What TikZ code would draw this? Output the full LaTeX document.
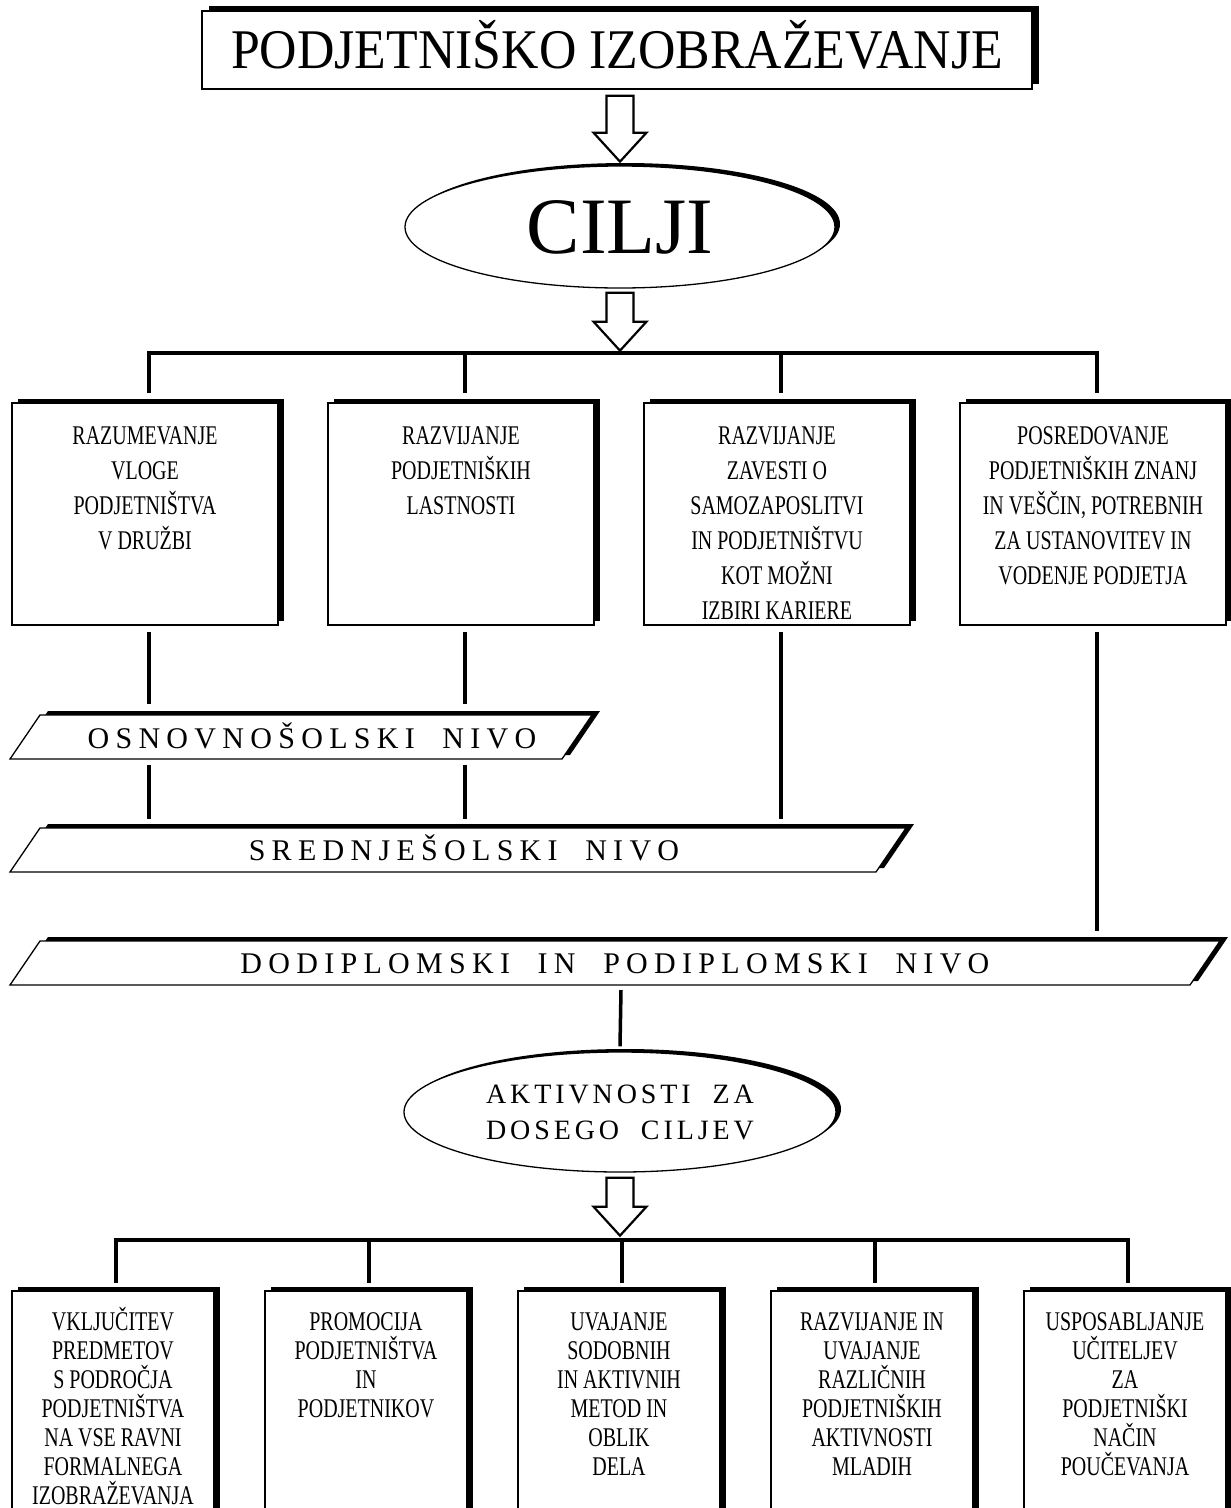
\documentclass[tikz,border=0pt]{standalone}
\usepackage{fontspec}
\setmainfont{Liberation Serif}
\newfontfamily\condfont[FakeStretch=0.74]{Liberation Serif}
\newfontfamily\titlefont[FakeStretch=0.925]{Liberation Serif}
\newfontfamily\wideA[LetterSpace=21]{Liberation Serif}
\newfontfamily\wideB[LetterSpace=14]{Liberation Serif}
\usetikzlibrary{shapes.geometric,shadows,calc}
\newcommand\mystrut{\rule{0pt}{24pt}}
\newcommand\myparal[4]{%
  \fill[black,shift={(8,-4)}] (#1,#4) -- ({#1+30},#3) -- (#2,#3) -- ({#2-30},#4) -- cycle;
  \draw[line width=1.3pt,fill=white] (#1,#4) -- ({#1+30},#3) -- (#2,#3) -- ({#2-30},#4) -- cycle;}
\tikzset{
  pics/blockarrow/.style={code={
    \draw[line width=2.2pt,fill=white,line join=miter]
      (-13.5,0) -- (13.5,0) -- (13.5,#1) -- (26.5,#1) -- (0,{#1+29}) -- (-26.5,#1) -- (-13.5,#1) -- cycle;}},
  conn/.style={line width=3.5pt},
  boxline/.style={draw,line width=1.3pt,fill=white,inner sep=0pt},
  rowbox/.style={boxline,rectangle,minimum width=266pt,minimum height=222pt,
    general shadow={fill=black,shadow xshift=6pt,shadow yshift=4pt}},
  actbox/.style={boxline,rectangle,minimum width=202pt,minimum height=300pt,
    general shadow={fill=black,shadow xshift=6pt,shadow yshift=4pt}},
  rowtext/.style={align=center,inner sep=0pt,anchor=north,font=\condfont\fontsize{27}{35}\selectfont},
  acttext/.style={align=center,inner sep=0pt,anchor=north,font=\condfont\fontsize{27}{29}\selectfont},
  levtext/.style={inner sep=0pt,text height=20pt,text depth=0pt,font=\wideA\fontsize{30}{36}\selectfont},
  ell/.style={boxline,ellipse,general shadow={fill=black,shadow xshift=5pt,shadow yshift=3pt}}
}
\begin{document}
\begin{tikzpicture}[x=1pt,y=-1pt]
\useasboundingbox (0,0) rectangle (1231,1508);
\fill[white] (0,0) rectangle (1231,1508);
\clip (0,0) rectangle (1231,1508);

% title
\node[boxline,rectangle,minimum width=830pt,minimum height=78pt,text height=37pt,text depth=0pt,
  general shadow={fill=black,shadow xshift=7pt,shadow yshift=5pt},
  font=\titlefont\fontsize{56}{64}\selectfont] (title) at (617,50) {PODJETNIŠKO IZOBRAŽEVANJE};

% goals ellipse
\node[ell,minimum width=430pt,minimum height=122pt,text height=53pt,text depth=0pt,
  font=\fontsize{80}{88}\selectfont] (cilji) at (620,227) {CILJI};

\pic at ([xshift=3pt,yshift=-6pt]title.south) {blockarrow=37};
\pic at ([yshift=-4pt]cilji.south) {blockarrow=29};

% goal boxes
\node[rowbox] (b1) at (145,514) {};
\node[rowbox] (b2) at (461,514) {};
\node[rowbox] (b3) at (777,514) {};
\node[rowbox] (b4) at (1093,514) {};
\node[rowtext] (t1) at ([yshift=-17.5pt]b1.north) {\mystrut RAZUMEVANJE\\VLOGE\\PODJETNIŠTVA\\V DRUŽBI};
\node[rowtext] (t2) at ([yshift=-17.5pt]b2.north) {\mystrut RAZVIJANJE\\PODJETNIŠKIH\\LASTNOSTI};
\node[rowtext] (t3) at ([yshift=-17.5pt]b3.north) {\mystrut RAZVIJANJE\\ZAVESTI O\\SAMOZAPOSLITVI\\IN PODJETNIŠTVU\\KOT MOŽNI\\IZBIRI KARIERE};
\node[rowtext] (t4) at ([yshift=-17.5pt]b4.north) {\mystrut POSREDOVANJE\\PODJETNIŠKIH ZNANJ\\IN VEŠČIN, POTREBNIH\\ZA USTANOVITEV IN\\VODENJE PODJETJA};

% upper hub
\coordinate (hub1) at (620,353);
\draw[conn] ([xshift=4pt,yshift=9pt]b1.north) -- ([xshift=4pt]b1.north |- hub1)
  -- ([xshift=4pt]b4.north |- hub1) -- ([xshift=4pt,yshift=9pt]b4.north);
\draw[conn] ([xshift=4pt]b2.north |- hub1) -- ([xshift=4pt,yshift=9pt]b2.north);
\draw[conn] ([xshift=4pt]b3.north |- hub1) -- ([xshift=4pt,yshift=9pt]b3.north);

% levels
\myparal{10}{592}{715}{759}
\myparal{10}{906}{828}{872}
\myparal{10}{1220}{941}{985}
\node[levtext] (osn) at (312,738) {OSNOVNOŠOLSKI~~NIVO};
\node[levtext] (sred) at (464,850) {SREDNJEŠOLSKI~~NIVO};
\node[levtext] (dod) at (615,963) {DODIPLOMSKI~~IN~~PODIPLOMSKI~~NIVO};

\coordinate (osnTop) at (0,704);
\coordinate (osnBot) at (0,765);
\coordinate (sredTop) at (0,819);
\coordinate (dodTop) at (0,931);
\coordinate (dodBot) at (621,990);

\draw[conn] ([xshift=4pt,yshift=-6pt]b1.south) -- ([xshift=4pt]b1.south |- osnTop);
\draw[conn] ([xshift=4pt,yshift=-6pt]b2.south) -- ([xshift=4pt]b2.south |- osnTop);
\draw[conn] ([xshift=4pt]b1.south |- osnBot) -- ([xshift=4pt]b1.south |- sredTop);
\draw[conn] ([xshift=4pt]b2.south |- osnBot) -- ([xshift=4pt]b2.south |- sredTop);
\draw[conn] ([xshift=4pt,yshift=-6pt]b3.south) -- ([xshift=4pt]b3.south |- sredTop);
\draw[conn] ([xshift=4pt,yshift=-6pt]b4.south) -- ([xshift=4pt]b4.south |- dodTop);

% activities ellipse
\node[ell,minimum width=432pt,minimum height=120pt] (akt) at (620,1112) {};
\node[inner sep=0pt,align=center,font=\wideB\fontsize{28}{36}\selectfont] (akttext) at (akt.center)
  {AKTIVNOSTI~~ZA\\DOSEGO~~CILJEV};
\draw[conn] (dodBot) -- ([yshift=5pt]akt.north);
\pic at ([yshift=-5pt]akt.south) {blockarrow=29};

% activity boxes
\node[actbox] (c1) at (113,1441) {};
\node[actbox] (c2) at (366,1441) {};
\node[actbox] (c3) at (619,1441) {};
\node[actbox] (c4) at (872,1441) {};
\node[actbox] (c5) at (1125,1441) {};
\node[acttext] (u1) at ([yshift=-15.5pt]c1.north) {\mystrut VKLJUČITEV\\PREDMETOV\\S PODROČJA\\PODJETNIŠTVA\\NA VSE RAVNI\\FORMALNEGA\\IZOBRAŽEVANJA};
\node[acttext] (u2) at ([yshift=-15.5pt]c2.north) {\mystrut PROMOCIJA\\PODJETNIŠTVA\\IN\\PODJETNIKOV};
\node[acttext] (u3) at ([yshift=-15.5pt]c3.north) {\mystrut UVAJANJE\\SODOBNIH\\IN AKTIVNIH\\METOD IN\\OBLIK\\DELA};
\node[acttext] (u4) at ([yshift=-15.5pt]c4.north) {\mystrut RAZVIJANJE IN\\UVAJANJE\\RAZLIČNIH\\PODJETNIŠKIH\\AKTIVNOSTI\\MLADIH};
\node[acttext] (u5) at ([yshift=-15.5pt]c5.north) {\mystrut USPOSABLJANJE\\UČITELJEV\\ZA\\PODJETNIŠKI\\NAČIN\\POUČEVANJA};

% lower hub
\coordinate (hub2) at (620,1240);
\draw[conn] ([xshift=3pt,yshift=7pt]c1.north) -- ([xshift=3pt]c1.north |- hub2)
  -- ([xshift=3pt]c5.north |- hub2) -- ([xshift=3pt,yshift=7pt]c5.north);
\draw[conn] ([xshift=3pt]c2.north |- hub2) -- ([xshift=3pt,yshift=7pt]c2.north);
\draw[conn] ([xshift=3pt]c3.north |- hub2) -- ([xshift=3pt,yshift=7pt]c3.north);
\draw[conn] ([xshift=3pt]c4.north |- hub2) -- ([xshift=3pt,yshift=7pt]c4.north);
\end{tikzpicture}
\end{document}
